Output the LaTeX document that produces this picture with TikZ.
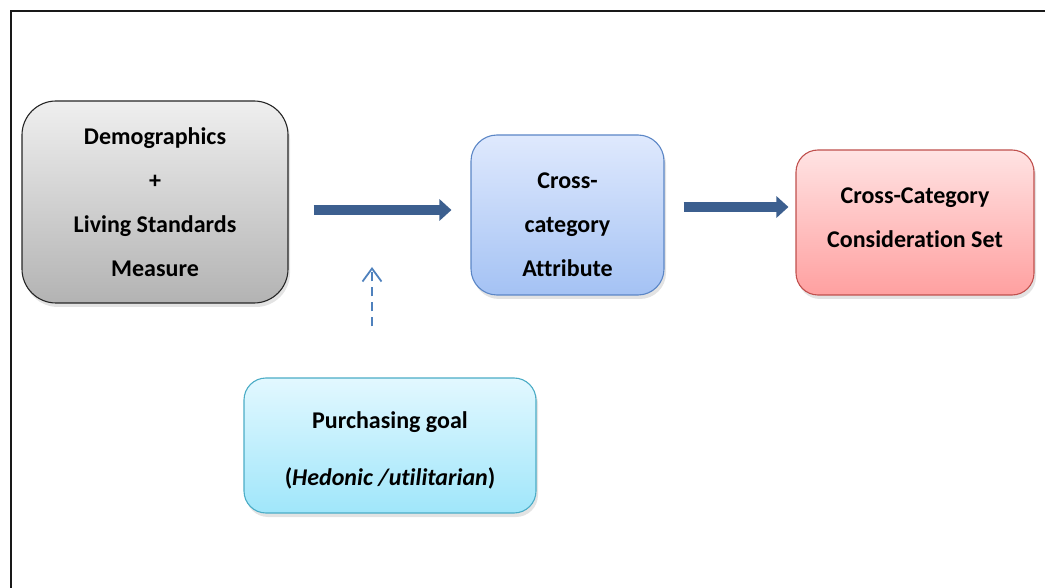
\documentclass[tikz,border=0pt]{standalone}
\usepackage{fontspec}
\setmainfont{Carlito}[Ligatures=NoCommon]
\usepackage{xcolor}
\usepackage{tikz}
\usetikzlibrary{arrows.meta, positioning, calc, shadows}
\definecolor{ArrowBlue}{HTML}{3C5F8F}
\definecolor{DashBlue}{HTML}{4F81BD}
\definecolor{GreyTop}{HTML}{EFEFEF}
\definecolor{GreyBot}{HTML}{B3B3B3}
\definecolor{BlueTop}{HTML}{DFE9FD}
\definecolor{BlueBot}{HTML}{A4C2F4}
\definecolor{BlueLine}{HTML}{5B86C6}
\definecolor{RedTop}{HTML}{FFE3E3}
\definecolor{RedBot}{HTML}{FFA0A0}
\definecolor{RedLine}{HTML}{C0504D}
\definecolor{CyanTop}{HTML}{E2F8FF}
\definecolor{CyanBot}{HTML}{A0E6FA}
\definecolor{CyanLine}{HTML}{4BACC6}
\tikzset{
    flowbox/.style={rectangle, rounded corners=22pt, inner sep=0pt, line width=1.1pt,
        align=center, font=\fontsize{24}{44}\selectfont\bfseries,
        drop shadow={opacity=0.22, shadow xshift=2pt, shadow yshift=-4pt}},
    greybox/.style={flowbox, rounded corners=34pt, draw=black!85,
        top color=GreyTop, bottom color=GreyBot},
    bluebox/.style={flowbox, rounded corners=26pt, draw=BlueLine,
        top color=BlueTop, bottom color=BlueBot},
    redbox/.style={flowbox, draw=RedLine, top color=RedTop, bottom color=RedBot},
    cyanbox/.style={flowbox, draw=CyanLine, top color=CyanTop, bottom color=CyanBot,
        font=\fontsize{24}{57}\selectfont\bfseries},
    bigarrow/.style={-{Triangle[length=12pt, width=21pt]}, line width=10pt, ArrowBlue},
    goalarrow/.style={-{Straight Barb[length=13pt, width=19pt, line width=1.8pt]}, line width=1.8pt, DashBlue,
        dash pattern=on 9pt off 6pt},
}

\begin{document}
\begin{tikzpicture}[x=1pt, y=-1pt]
    \useasboundingbox (0,0) rectangle (1045,588);
    % frame, open to the right and bottom
    \draw[line width=2.6pt, black!90] (11,588) -- (11,11) -- (1045,11);

    \node[greybox, minimum width=266pt, minimum height=202pt] (demo) at (155,202)
        {Demographics\\+\\Living Standards\\Measure};
    \node[bluebox, minimum width=193pt, minimum height=160pt] (attr) at (567.5,215)
        {\rule{0pt}{35pt}Cross-\\category\\Attribute};
    \node[redbox, minimum width=238pt, minimum height=145pt] (cset) at (915,222.5)
        {Cross-Category\\Consideration Set\rule[-10pt]{0pt}{10pt}};
    \node[cyanbox, minimum width=292pt, minimum height=135pt] (goal) at (390,445.5)
        {\rule{0pt}{27pt}Purchasing goal\\(\textit{Hedonic /utilitarian})};

    \coordinate (gtip) at (372,267);

    \draw[bigarrow, shorten <=25pt, shorten >=19pt] ([yshift=-8pt]demo.east) -- ([yshift=5pt]attr.west);
    \draw[bigarrow, shorten <=19pt, shorten >=7pt] ([yshift=8pt]attr.east) -- ([yshift=15.5pt]cset.west);
    \draw[goalarrow, shorten <=51pt] (goal.north -| gtip) -- (gtip);
\end{tikzpicture}
\end{document}
